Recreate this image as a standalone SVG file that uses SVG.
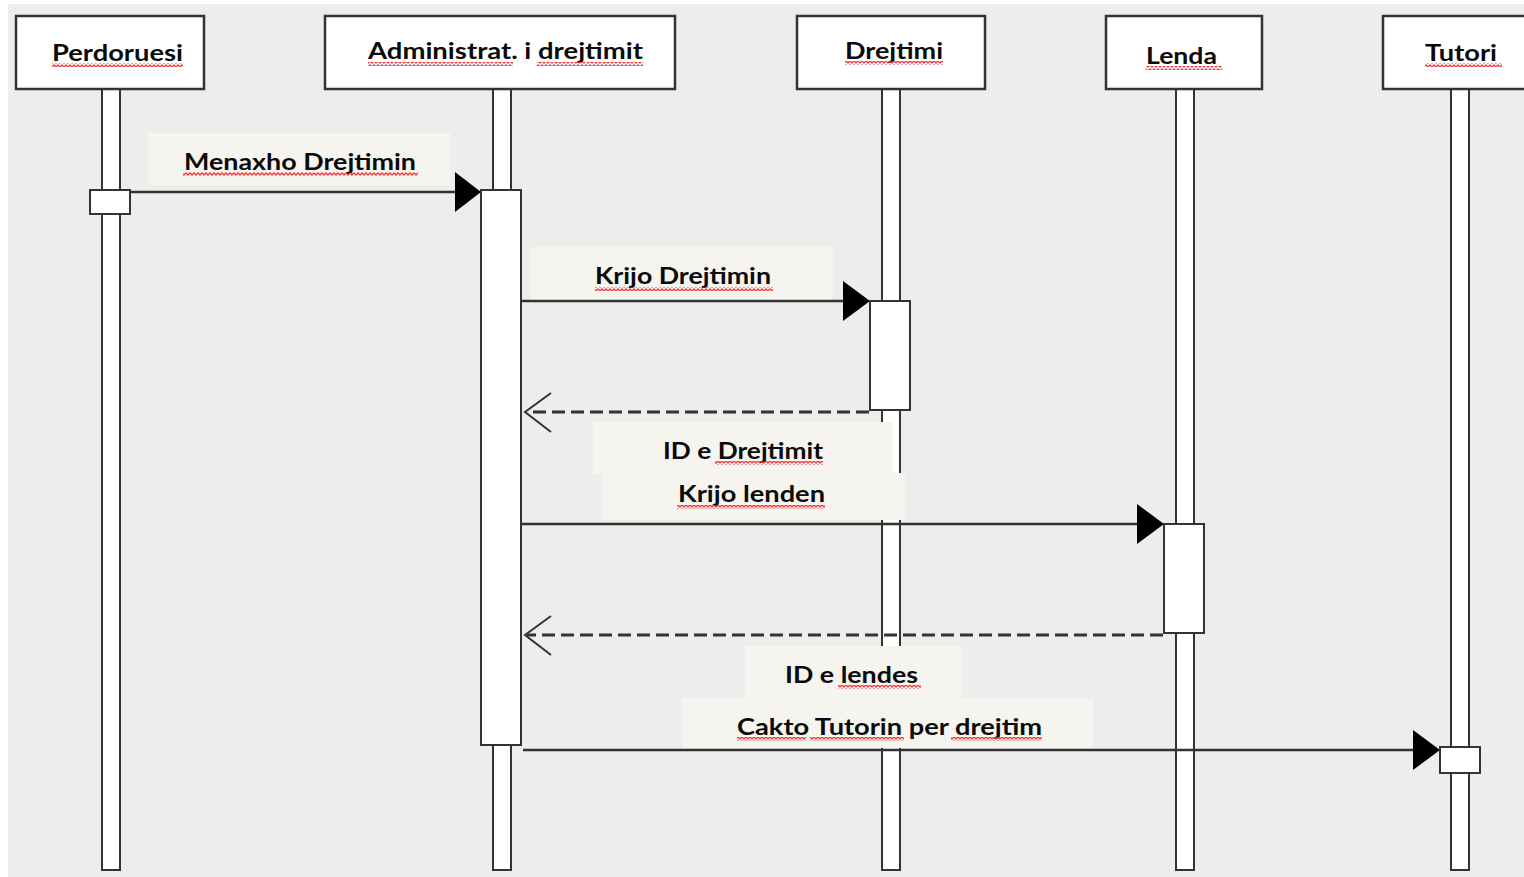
<svg xmlns="http://www.w3.org/2000/svg" width="1524" height="877" viewBox="0 0 1524 877">
<style>
.bg{fill:#ededed}
.box{fill:#ffffff;stroke:#333333;stroke-width:2.5}
.life{fill:#ffffff;stroke:#333333;stroke-width:2}
.act{fill:#ffffff;stroke:#333333;stroke-width:2}
.lbl{fill:#f5f4ef}
.msg{stroke:#333333;stroke-width:2.5;fill:none}
.ret{stroke:#333333;stroke-width:3;fill:none;stroke-dasharray:13 6}
.open{stroke:#333333;stroke-width:2;fill:none}
.head{fill:#000000}
.t{font-family:Lato,"Open Sans","Liberation Sans",sans-serif;font-weight:700;font-size:23px;fill:#0a0a0a}
.sq{fill:url(#wavy)}
</style>
<defs>
<pattern id="wavy" x="0" y="0" width="4" height="4" patternUnits="userSpaceOnUse">
<path d="M-1 2 L0 3 L2 1 L4 3 L5 2" fill="none" stroke="#f03c3c" stroke-width="1.3"/>
</pattern>
</defs>
<rect x="0" y="0" width="1524" height="877" fill="#ffffff"/>
<rect class="bg" x="8" y="4" width="1516" height="873"/>

<g id="lifelines">
<rect class="life" x="102" y="89" width="18" height="781"/>
<rect class="life" x="493" y="89" width="18" height="781"/>
<rect class="life" x="882" y="89" width="18" height="781"/>
<rect class="life" x="1176" y="89" width="18" height="781"/>
<rect class="life" x="1451" y="89" width="18" height="781"/>
</g>

<g id="labels-bg">
<rect class="lbl" x="148" y="133" width="302" height="52"/>
<rect class="lbl" x="530" y="247" width="303" height="54"/>
<rect class="lbl" x="593" y="422" width="300" height="52"/>
<rect class="lbl" x="602" y="473" width="303" height="47"/>
<rect class="lbl" x="745" y="646" width="217" height="52"/>
<rect class="lbl" x="682" y="698" width="411" height="50"/>
</g>

<g id="connectors">
<line class="msg" x1="130" y1="192" x2="458" y2="192"/>
<polygon class="head" points="455,172 481,192 455,212"/>
<line class="msg" x1="521" y1="301" x2="846" y2="301"/>
<polygon class="head" points="843,281 870,301 843,321"/>
<line class="ret" x1="869" y1="412" x2="527" y2="412"/>
<polyline class="open" points="551,393 525,412 551,432"/>
<line class="msg" x1="521" y1="524" x2="1140" y2="524"/>
<polygon class="head" points="1137,504 1164,524 1137,544"/>
<line class="ret" x1="1163" y1="635" x2="527" y2="635"/>
<polyline class="open" points="551,616 525,635 551,655"/>
<line class="msg" x1="523" y1="750" x2="1416" y2="750"/>
<polygon class="head" points="1413,730 1440,750 1413,770"/>
</g>

<g id="activations">
<rect class="act" x="90" y="190" width="40" height="24"/>
<rect class="act" x="481" y="190" width="40" height="555"/>
<rect class="act" x="870" y="301" width="40" height="109"/>
<rect class="act" x="1164" y="524" width="40" height="109"/>
<rect class="act" x="1440" y="747" width="40" height="26"/>
</g>

<g id="node-perdoruesi">
<rect class="box" x="16" y="16" width="188" height="73"/>
<text class="t" x="52" y="61" textLength="131" lengthAdjust="spacingAndGlyphs">Perdoruesi</text>
<rect class="sq" x="52" y="63" width="131" height="4"/>
</g>
<g id="node-administrat">
<rect class="box" x="325" y="16" width="350" height="73"/>
<text class="t" x="368" y="59" textLength="275" lengthAdjust="spacingAndGlyphs">Administrat. i drejtimit</text>
<rect class="sq" x="368" y="62" width="145" height="4"/>
<rect class="sq" x="537" y="62" width="106" height="4"/>
</g>
<g id="node-drejtimi">
<rect class="box" x="797" y="16" width="188" height="73"/>
<text class="t" x="845" y="59" textLength="98" lengthAdjust="spacingAndGlyphs">Drejtimi</text>
<rect class="sq" x="845" y="61" width="98" height="4"/>
</g>
<g id="node-lenda">
<rect class="box" x="1106" y="16" width="156" height="73"/>
<text class="t" x="1146" y="64" textLength="71" lengthAdjust="spacingAndGlyphs">Lenda</text>
<rect class="sq" x="1146" y="66" width="76" height="4"/>
</g>
<g id="node-tutori">
<rect class="box" x="1383" y="16" width="150" height="73"/>
<text class="t" x="1425" y="61" textLength="72" lengthAdjust="spacingAndGlyphs">Tutori</text>
<rect class="sq" x="1425" y="63" width="77" height="4"/>
</g>

<g id="message-labels">
<text class="t" x="184" y="170" textLength="232" lengthAdjust="spacingAndGlyphs">Menaxho Drejtimin</text>
<rect class="sq" x="183" y="172" width="235" height="4"/>
<text class="t" x="595" y="284" textLength="176" lengthAdjust="spacingAndGlyphs">Krijo Drejtimin</text>
<rect class="sq" x="595" y="287" width="178" height="4"/>
<text class="t" x="663" y="459" textLength="160" lengthAdjust="spacingAndGlyphs">ID e Drejtimit</text>
<rect class="sq" x="715" y="461" width="108" height="4"/>
<text class="t" x="678" y="502" textLength="147" lengthAdjust="spacingAndGlyphs">Krijo lenden</text>
<rect class="sq" x="677" y="505" width="148" height="4"/>
<text class="t" x="785" y="683" textLength="133" lengthAdjust="spacingAndGlyphs">ID e lendes</text>
<rect class="sq" x="838" y="685" width="83" height="4"/>
<text class="t" x="737" y="735" textLength="305" lengthAdjust="spacingAndGlyphs">Cakto Tutorin per drejtim</text>
<rect class="sq" x="737" y="737" width="69" height="4"/>
<rect class="sq" x="810" y="737" width="94" height="4"/>
<rect class="sq" x="951" y="737" width="91" height="4"/>
</g>
</svg>
